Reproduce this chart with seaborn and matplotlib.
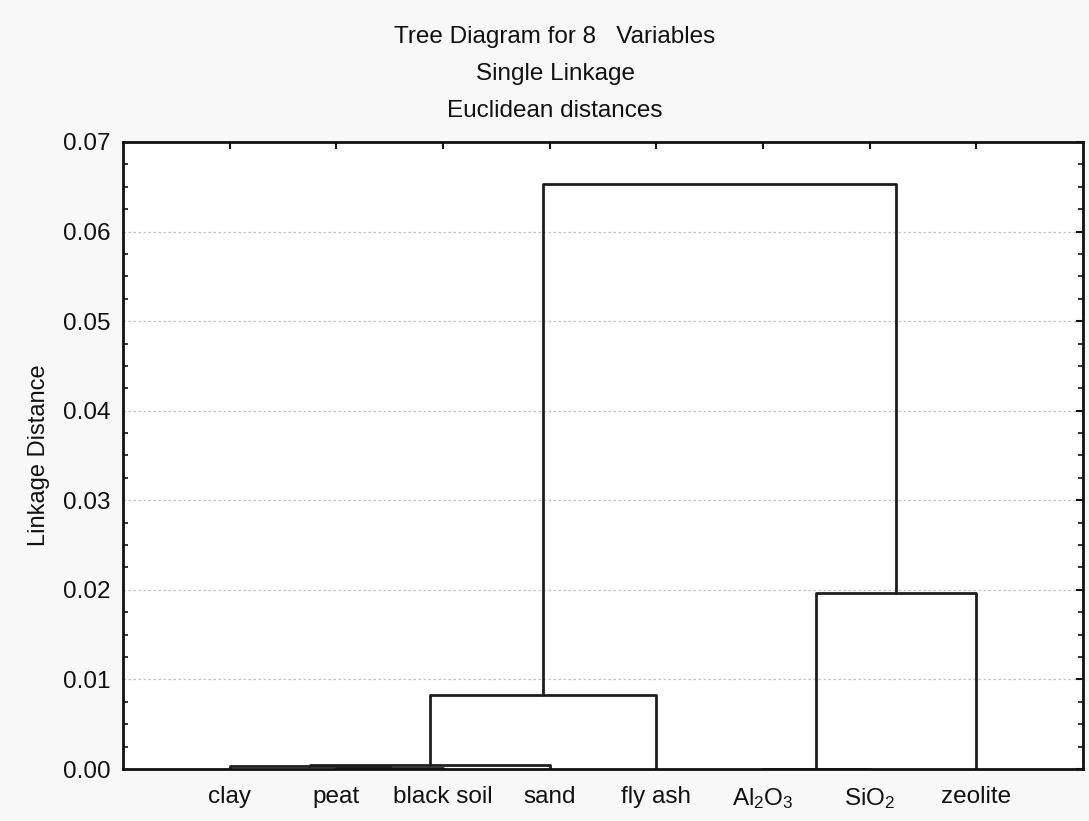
import numpy as np
import pandas as pd
import matplotlib
matplotlib.use("Agg")
import matplotlib.pyplot as plt
from matplotlib.ticker import AutoMinorLocator, FormatStrFormatter
import seaborn as sns

# ---- data ----
leaf_labels = ["clay", "peat", "black soil", "sand", "fly ash",
               r"Al$_\mathregular{2}$O$_\mathregular{3}$",
               r"SiO$_\mathregular{2}$", "zeolite"]
# merges (scipy-like numbering: leaves 0..7, new clusters 8..)
merge_left = [1, 0, 9, 5, 10, 11, 12]
merge_right = [2, 8, 3, 6, 4, 7, 13]
merge_height = [0.0001, 0.0003, 0.0005, 0.0000, 0.0083, 0.0197, 0.0653]
y_ticks = [0.00, 0.01, 0.02, 0.03, 0.04, 0.05, 0.06, 0.07]
title_lines = ["Tree Diagram for 8   Variables", "Single Linkage", "Euclidean distances"]
y_label = "Linkage Distance"

# ---- build link paths from merges ----
n = len(leaf_labels)
pos = {i: i + 1.0 for i in range(n)}
hgt = {i: 0.0 for i in range(n)}
rows = []
for k, (a, b, h) in enumerate(zip(merge_left, merge_right, merge_height)):
    xa, xb = pos[a], pos[b]
    for px, py in [(xa, hgt[a]), (xa, h), (xb, h), (xb, hgt[b])]:
        rows.append({"link": k, "x": px, "y": py})
    pos[n + k] = (xa + xb) / 2
    hgt[n + k] = h
df = pd.DataFrame(rows)

# ---- style ----
sns.set_theme(style="white")
plt.rcParams["font.family"] = ["Liberation Sans", "DejaVu Sans"]
plt.rcParams["mathtext.fontset"] = "custom"
plt.rcParams["mathtext.rm"] = "Liberation Sans"
plt.rcParams["mathtext.it"] = "Liberation Sans:italic"
plt.rcParams["mathtext.bf"] = "Liberation Sans:bold"

FS = 17.5
W, H = 1089, 821
fig = plt.figure(figsize=(W / 100, H / 100), dpi=100, facecolor="#f8f8f8")
left, right, top, bottom = 123, 1083, 142, 769
ax = fig.add_axes([left / W, 1 - bottom / H, (right - left) / W, (bottom - top) / H])
ax.set_facecolor("white")

sns.lineplot(data=df, x="x", y="y", units="link", estimator=None, sort=False,
             color="#1e1e1e", linewidth=2.0, ax=ax, legend=False)

ax.set_xlim(0, n + 1)
ax.set_ylim(0, 0.07)
ax.set_xticks(range(1, n + 1))
ax.set_xticklabels(leaf_labels)
ax.set_yticks(y_ticks)
ax.yaxis.set_major_formatter(FormatStrFormatter("%.2f"))
ax.yaxis.set_minor_locator(AutoMinorLocator(4))
ax.tick_params(axis="both", which="major", direction="in", top=True, right=True,
               length=5, width=1.5, color="#111111", labelsize=FS, labelcolor="#111111")
ax.tick_params(axis="y", which="minor", direction="in", left=True, right=True,
               length=3.5, width=1.2, color="#111111")
ax.tick_params(axis="y", which="major", pad=9)
ax.tick_params(axis="x", which="major", pad=12)
ax.set_xlabel("")
ax.set_ylabel(y_label, fontsize=FS - 0.5, color="#111111", labelpad=9)
ax.yaxis.grid(True, which="major", linestyle=(0, (2, 2)), color="#c4c4c4", linewidth=0.9)
ax.xaxis.grid(False)
for s in ax.spines.values():
    s.set_visible(True)
    s.set_color("#111111")
    s.set_linewidth(2)

for i, (t, yc) in enumerate(zip(title_lines, [37, 74, 111])):
    fig.text(555 / W, 1 - yc / H, t, ha="center", va="center", fontsize=FS, color="#111111")

fig.savefig("out.png", dpi=100, facecolor=fig.get_facecolor())
